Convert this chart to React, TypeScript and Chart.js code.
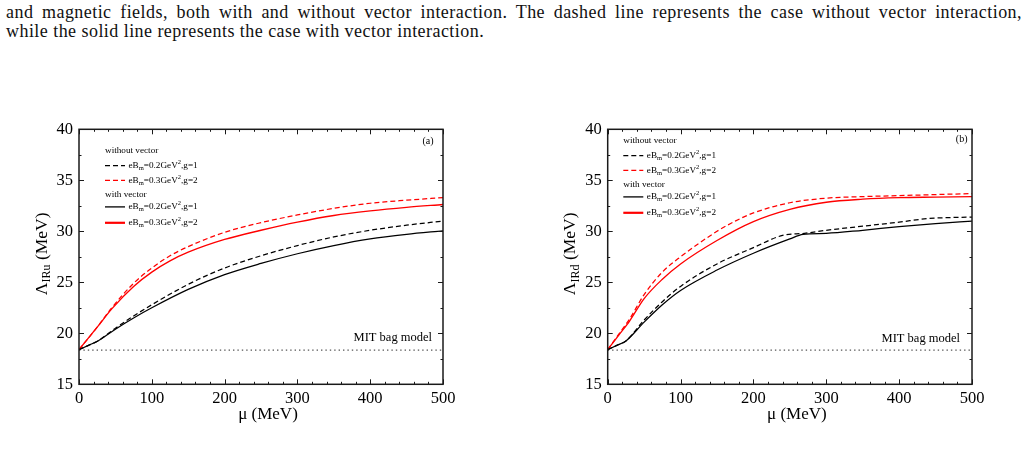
import React, { useEffect, useRef } from 'react';
import { Chart, registerables } from 'chart.js';

Chart.register(...registerables);

const SERIF = "'Liberation Serif', 'Times New Roman', serif";

// Panel (a): Λ_IRu versus μ
const muA_noVec_g1 = [0, 13, 26, 50, 75, 100, 150, 200, 250, 300, 350, 400, 450, 500];
const lamA_noVec_g1 = [18.4, 18.82, 19.25, 20.5, 21.7, 22.8, 24.8, 26.4, 27.6, 28.6, 29.45, 30.1, 30.6, 31.0];
const muA_noVec_g2 = [0, 25, 45, 75, 100, 125, 150, 200, 250, 300, 350, 400, 450, 500];
const lamA_noVec_g2 = [18.4, 20.6, 22.5, 24.9, 26.4, 27.6, 28.5, 29.9, 30.85, 31.6, 32.25, 32.75, 33.05, 33.3];
const muA_vec_g1 = [0, 13, 26, 50, 75, 100, 150, 200, 250, 300, 350, 400, 450, 500];
const lamA_vec_g1 = [18.4, 18.82, 19.25, 20.4, 21.5, 22.5, 24.3, 25.75, 26.85, 27.8, 28.6, 29.25, 29.7, 30.05];
const muA_vec_g2 = [0, 25, 45, 75, 100, 125, 150, 200, 250, 300, 350, 400, 450, 500];
const lamA_vec_g2 = [18.4, 20.6, 22.4, 24.6, 26.0, 27.1, 27.95, 29.2, 30.1, 30.9, 31.55, 32.0, 32.35, 32.63];

// Panel (b): Λ_IRd versus μ
const muB_noVec_g1 = [0, 12.5, 25, 50, 75, 100, 150, 200, 240, 270, 300, 350, 400, 440, 500];
const lamB_noVec_g1 = [18.4, 18.82, 19.25, 21.3, 23.1, 24.6, 26.8, 28.4, 29.6, 29.8, 30.1, 30.5, 30.9, 31.25, 31.4];
const muB_noVec_g2 = [0, 15, 30, 50, 75, 100, 150, 175, 200, 250, 300, 350, 400, 450, 500];
const lamB_noVec_g2 = [18.4, 19.9, 21.4, 23.8, 26.0, 27.5, 30.0, 31.0, 31.8, 32.8, 33.25, 33.4, 33.5, 33.6, 33.7];
const muB_vec_g1 = [0, 12.5, 25, 50, 75, 100, 150, 200, 250, 268, 300, 350, 400, 450, 500];
const lamB_vec_g1 = [18.4, 18.82, 19.25, 21.1, 22.8, 24.2, 26.2, 27.85, 29.25, 29.7, 29.8, 30.1, 30.45, 30.75, 31.0];
const muB_vec_g2 = [0, 15, 30, 50, 75, 100, 150, 200, 250, 300, 350, 400, 450, 500];
const lamB_vec_g2 = [18.4, 19.8, 21.2, 23.4, 25.3, 26.8, 29.1, 30.95, 32.15, 32.85, 33.15, 33.3, 33.35, 33.4];

// MIT bag model reference value (MeV)
const mitBagValue = 18.35;

// Legend parameters
const fieldStrengths = [0.2, 0.3]; // eB_m in GeV^2
const couplings = [1, 2];
const groupTitles = ['without vector', 'with vector'];

// Axis ranges and ticks
const xTickValues = [0, 100, 200, 300, 400, 500];
const yTickValues = [15, 20, 25, 30, 35, 40];
const X_MINOR = 20;
const Y_MINOR = 2.5;

const AXIS_COLOR = '#1a1a1a';
const RED = '#ff0000';
const BLACK = '#000000';

type RichPart = { t: string; size: number; dy: number };

function drawRich(ctx: CanvasRenderingContext2D, x: number, y: number, parts: RichPart[]) {
  let cx = x;
  for (const p of parts) {
    ctx.font = `${p.size}px ${SERIF}`;
    ctx.fillText(p.t, cx, y + p.dy);
    cx += ctx.measureText(p.t).width;
  }
  return cx - x;
}

function measureRich(ctx: CanvasRenderingContext2D, parts: RichPart[]) {
  let w = 0;
  for (const p of parts) {
    ctx.font = `${p.size}px ${SERIF}`;
    w += ctx.measureText(p.t).width;
  }
  return w;
}

function legendParts(field: number, g: number): RichPart[] {
  return [
    { t: 'eB', size: 9.2, dy: 0 },
    { t: 'm', size: 6.5, dy: 2.6 },
    { t: `=${field}GeV`, size: 9.2, dy: 0 },
    { t: '2', size: 6.5, dy: -3.3 },
    { t: `,g=${g}`, size: 9.2, dy: 0 },
  ];
}

const decorPlugin = {
  id: 'panelDecor',
  afterDatasetsDraw(chart: any, _args: any, opts: any) {
    const { ctx, chartArea: a } = chart;
    const xs = chart.scales.x;
    const ys = chart.scales.y;
    ctx.save();

    // inward ticks on all four sides
    ctx.strokeStyle = AXIS_COLOR;
    ctx.lineWidth = 1;
    ctx.beginPath();
    for (let v = xs.min; v <= xs.max + 1e-6; v += X_MINOR) {
      const px = Math.round(xs.getPixelForValue(v)) + 0.5;
      const len = xTickValues.includes(v) ? 5 : 2.5;
      ctx.moveTo(px, a.bottom);
      ctx.lineTo(px, a.bottom - len);
      ctx.moveTo(px, a.top);
      ctx.lineTo(px, a.top + len);
    }
    for (let v = ys.min; v <= ys.max + 1e-6; v += Y_MINOR) {
      const py = Math.round(ys.getPixelForValue(v)) + 0.5;
      const len = yTickValues.some((t) => Math.abs(t - v) < 1e-6) ? 5 : 2.5;
      ctx.moveTo(a.left, py);
      ctx.lineTo(a.left + len, py);
      ctx.moveTo(a.right, py);
      ctx.lineTo(a.right - len, py);
    }
    ctx.stroke();

    // frame
    ctx.lineWidth = 1.5;
    ctx.strokeRect(a.left, a.top, a.right - a.left, a.bottom - a.top);

    ctx.fillStyle = '#000';

    // panel tag
    ctx.font = `10px ${SERIF}`;
    ctx.textAlign = 'center';
    ctx.textBaseline = 'middle';
    ctx.fillText(opts.tag, a.right + opts.tagDx, a.top + opts.tagDy);

    // MIT bag model label
    ctx.font = `12.5px ${SERIF}`;
    ctx.textAlign = 'right';
    ctx.fillText('MIT bag model', a.right + opts.mitDx, ys.getPixelForValue(mitBagValue) + opts.mitDy);

    // legend
    const lx = a.left + opts.legendDx;
    const rowOffsets = [0, 14.7, 29.3, 44, 55.9, 71.8];
    const baseY = a.top + opts.legendDy;
    const lineLen = 20;
    ctx.textAlign = 'left';
    ctx.textBaseline = 'middle';
    let row = 0;
    const ds = chart.data.datasets;
    for (let gi = 0; gi < groupTitles.length; gi++) {
      ctx.font = `9.2px ${SERIF}`;
      ctx.fillStyle = '#000';
      ctx.fillText(groupTitles[gi], lx, baseY + rowOffsets[row]);
      row++;
      for (let k = 0; k < fieldStrengths.length; k++) {
        const d = ds[gi * fieldStrengths.length + k];
        const y = baseY + rowOffsets[row];
        ctx.strokeStyle = d.borderColor;
        ctx.lineWidth = d.legendWidth;
        ctx.setLineDash(d.borderDash || []);
        ctx.beginPath();
        ctx.moveTo(lx, y);
        ctx.lineTo(lx + lineLen, y);
        ctx.stroke();
        ctx.setLineDash([]);
        ctx.fillStyle = '#000';
        drawRich(ctx, lx + lineLen + 3.5, y, legendParts(fieldStrengths[k], couplings[k]));
        row++;
      }
    }

    // x axis title
    ctx.fillStyle = '#000';
    ctx.font = `17px ${SERIF}`;
    ctx.textAlign = 'center';
    ctx.textBaseline = 'middle';
    ctx.fillText('μ (MeV)', (a.left + a.right) / 2 + 7, a.bottom + 30.5);

    // y axis title (rotated, with subscript)
    const parts: RichPart[] = [
      { t: 'Λ', size: 17.5, dy: 0 },
      { t: opts.sub, size: 12, dy: 4.8 },
      { t: ' (MeV)', size: 17.5, dy: 0 },
    ];
    ctx.save();
    ctx.translate(a.left - 37, (a.top + a.bottom) / 2 - 3);
    ctx.rotate(-Math.PI / 2);
    ctx.textAlign = 'left';
    const w = measureRich(ctx, parts);
    drawRich(ctx, -w / 2, 0, parts);
    ctx.restore();

    ctx.restore();
  },
};

type PanelProps = {
  left: number;
  yAxisW: number;
  padRight: number;
  tag: string;
  sub: string;
  series: { mu: number[]; lam: number[] }[];
  legendDx: number;
  legendDy: number;
  tagDx: number;
  tagDy: number;
  mitDx: number;
  mitDy: number;
};

const CANVAS_W = 475;
const CANVAS_H = 340;
const CANVAS_TOP = 100;
const PLOT_TOP = 29.3;
const X_AXIS_H = 55.7;

function Panel(p: PanelProps) {
  const ref = useRef<HTMLCanvasElement | null>(null);

  useEffect(() => {
    if (!ref.current) return;
    const styles = [
      { color: BLACK, dash: [5, 3], width: 1.25, lw: 1.2 },
      { color: RED, dash: [5, 3], width: 1.25, lw: 1.2 },
      { color: BLACK, dash: [] as number[], width: 1.25, lw: 1.3 },
      { color: RED, dash: [] as number[], width: 1.35, lw: 2.2 },
    ];
    const datasets: any[] = p.series.map((s, i) => ({
      label: `series ${i}`,
      data: s.mu.map((m, j) => ({ x: m, y: s.lam[j] })),
      borderColor: styles[i].color,
      borderWidth: styles[i].width,
      borderDash: styles[i].dash,
      legendWidth: styles[i].lw,
      pointRadius: 0,
      fill: false,
      cubicInterpolationMode: 'monotone',
    }));
    datasets.push({
      label: 'MIT bag model',
      data: [
        { x: 0, y: mitBagValue },
        { x: 500, y: mitBagValue },
      ],
      borderColor: '#555',
      borderWidth: 1.4,
      borderDash: [1.4, 3],
      pointRadius: 0,
      fill: false,
    });

    const tickFont = { family: SERIF, size: 16.5 };
    const chart = new Chart(ref.current, {
      type: 'line',
      data: { datasets },
      options: {
        responsive: false,
        animation: false,
        devicePixelRatio: 1,
        layout: { padding: { top: PLOT_TOP, right: p.padRight, left: 0, bottom: 0 } },
        plugins: {
          legend: { display: false },
          tooltip: { enabled: false },
          panelDecor: {
            tag: p.tag,
            sub: p.sub,
            legendDx: p.legendDx,
            legendDy: p.legendDy,
            tagDx: p.tagDx,
            tagDy: p.tagDy,
            mitDx: p.mitDx,
            mitDy: p.mitDy,
          },
        } as any,
        scales: {
          x: {
            type: 'linear',
            min: 0,
            max: 500,
            afterFit: (s: any) => {
              s.height = X_AXIS_H;
            },
            afterBuildTicks: (s: any) => {
              s.ticks = xTickValues.map((v) => ({ value: v }));
            },
            ticks: { font: tickFont, color: '#000', padding: 4, maxRotation: 0 },
            grid: { display: false, drawTicks: false },
            border: { display: false },
          },
          y: {
            type: 'linear',
            min: 15,
            max: 40,
            afterFit: (s: any) => {
              s.width = p.yAxisW;
            },
            afterBuildTicks: (s: any) => {
              s.ticks = yTickValues.map((v) => ({ value: v }));
            },
            ticks: { font: tickFont, color: '#000', padding: 6 },
            grid: { display: false, drawTicks: false },
            border: { display: false },
          },
        },
      } as any,
      plugins: [decorPlugin as any],
    });
    return () => chart.destroy();
  }, []);

  return (
    <canvas
      ref={ref}
      width={CANVAS_W}
      height={CANVAS_H}
      style={{ position: 'absolute', left: p.left, top: CANVAS_TOP, width: CANVAS_W, height: CANVAS_H, display: 'block' }}
    />
  );
}

export default function App() {
  return (
    <div
      style={{
        position: 'absolute',
        left: 0,
        top: 0,
        width: 1027,
        height: 463,
        background: '#fff',
        overflow: 'hidden',
        fontFamily: SERIF,
        color: '#111',
      }}
    >
      <div
        style={{
          position: 'absolute',
          left: 6,
          top: 3,
          width: 1016,
          fontSize: 18,
          lineHeight: '19px',
          letterSpacing: '0.45px',
          textAlign: 'justify',
          textAlignLast: 'justify',
        }}
      >
        and magnetic fields, both with and without vector interaction. The dashed line represents the case without vector interaction,
      </div>
      <div style={{ position: 'absolute', left: 6, top: 22, fontSize: 18, lineHeight: '19px', letterSpacing: '0.45px', whiteSpace: 'nowrap' }}>
        while the solid line represents the case with vector interaction.
      </div>
      <Panel
        left={0}
        yAxisW={79}
        padRight={32}
        tag="(a)"
        sub="IRu"
        series={[
          { mu: muA_noVec_g1, lam: lamA_noVec_g1 },
          { mu: muA_noVec_g2, lam: lamA_noVec_g2 },
          { mu: muA_vec_g1, lam: lamA_vec_g1 },
          { mu: muA_vec_g2, lam: lamA_vec_g2 },
        ]}
        legendDx={26}
        legendDy={21.7}
        tagDx={-15}
        tagDy={12.4}
        mitDx={-11}
        mitDy={-12}
      />
      <Panel
        left={528}
        yAxisW={79.7}
        padRight={31}
        tag="(b)"
        sub="IRd"
        series={[
          { mu: muB_noVec_g1, lam: lamB_noVec_g1 },
          { mu: muB_noVec_g2, lam: lamB_noVec_g2 },
          { mu: muB_vec_g1, lam: lamB_vec_g1 },
          { mu: muB_vec_g2, lam: lamB_vec_g2 },
        ]}
        legendDx={15.6}
        legendDy={11.7}
        tagDx={-10.3}
        tagDy={10}
        mitDx={-12}
        mitDy={-11}
      />
    </div>
  );
}
